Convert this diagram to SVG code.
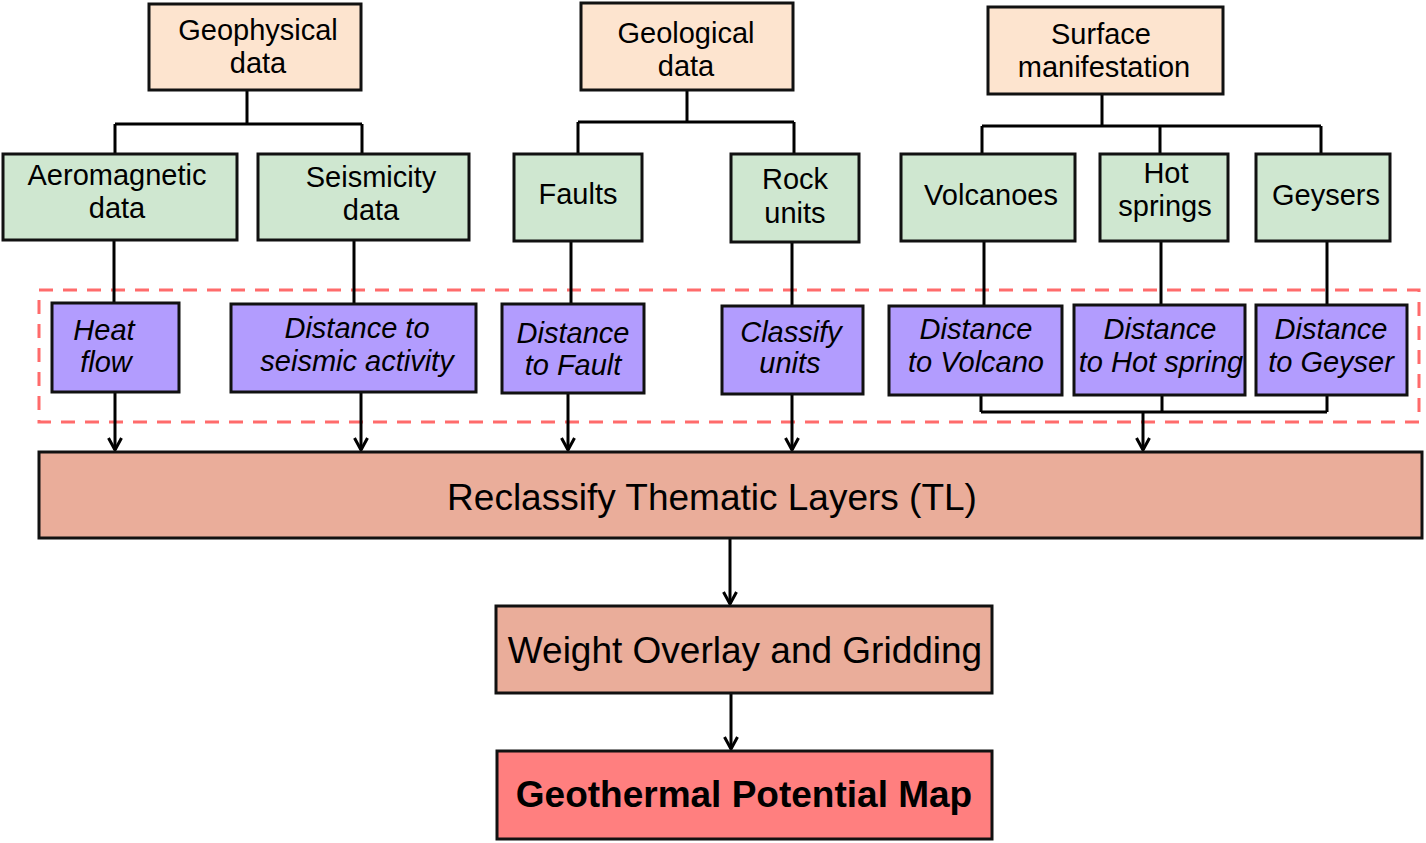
<svg xmlns="http://www.w3.org/2000/svg" width="1426" height="843" viewBox="0 0 1426 843">
<defs>
<style>
.box{stroke:#111;stroke-width:3}
.src{fill:#FDE4CF}
.grn{fill:#CFE7D0}
.pur{fill:#B29CFE}
.sal{fill:#EAAD9A}
.red{fill:#FF7F7F}
.t{font-family:"Liberation Sans",Arial,sans-serif;font-size:29px;fill:#000;text-anchor:middle}
.i{font-style:italic}
.big{font-size:37px}
.b{font-weight:bold}
.ln{fill:none;stroke:#000;stroke-width:3}
.dash{fill:none;stroke:#FF6B6B;stroke-width:3;stroke-dasharray:14 10}
</style>
<marker id="arr" viewBox="0 0 16 16" refX="14" refY="8" markerWidth="16" markerHeight="16" markerUnits="userSpaceOnUse" orient="auto">
<path d="M2,1.5 L14,8 L2,14.5" fill="none" stroke="#000" stroke-width="3"/>
</marker>
</defs>
<rect width="1426" height="843" fill="#fff"/>
<rect class="dash" x="39" y="290" width="1380" height="132"/>
<g id="connectors">
<path class="ln" d="M247,90 V124 M115,124 H362 M115,124 V154 M362,124 V154"/>
<path class="ln" d="M687,90 V122 M578,122 H794 M578,122 V154 M794,122 V154"/>
<path class="ln" d="M1102,94 V126 M982,126 H1321 M982,126 V154 M1160,126 V154 M1321,126 V154"/>
<path class="ln" d="M114,240 V303 M354,240 V304 M571,241 V304 M792,242 V306 M984,241 V306 M1161,241 V305 M1327,241 V305"/>
<path class="ln" d="M981,395 V412 M1162,395 V412 M1327,395 V412 M981,412 H1327"/>
<path class="ln" marker-end="url(#arr)" d="M115,392 V450"/>
<path class="ln" marker-end="url(#arr)" d="M361,392 V450"/>
<path class="ln" marker-end="url(#arr)" d="M568,393 V450"/>
<path class="ln" marker-end="url(#arr)" d="M792,394 V450"/>
<path class="ln" marker-end="url(#arr)" d="M1143,412 V450"/>
<path class="ln" marker-end="url(#arr)" d="M730,538 V604"/>
<path class="ln" marker-end="url(#arr)" d="M731,693 V749"/>
</g>
<g id="geophysical"><rect class="box src" x="149" y="4" width="212" height="86"/><text class="t" x="258" y="40">Geophysical</text><text class="t" x="258" y="73">data</text></g>
<g id="geological"><rect class="box src" x="581" y="3" width="212" height="87"/><text class="t" x="686" y="43">Geological</text><text class="t" x="686" y="76">data</text></g>
<g id="surface"><rect class="box src" x="988" y="7" width="235" height="87"/><text class="t" x="1101" y="44">Surface</text><text class="t" x="1104" y="77">manifestation</text></g>
<g id="aeromagnetic"><rect class="box grn" x="3" y="154" width="234" height="86"/><text class="t" x="117" y="185">Aeromagnetic</text><text class="t" x="117" y="218">data</text></g>
<g id="seismicity"><rect class="box grn" x="258" y="154" width="211" height="86"/><text class="t" x="371" y="187">Seismicity</text><text class="t" x="371" y="220">data</text></g>
<g id="faults"><rect class="box grn" x="514" y="154" width="128" height="87"/><text class="t" x="578" y="204">Faults</text></g>
<g id="rock"><rect class="box grn" x="731" y="154" width="128" height="88"/><text class="t" x="795" y="189">Rock</text><text class="t" x="795" y="223">units</text></g>
<g id="volcanoes"><rect class="box grn" x="901" y="154" width="174" height="87"/><text class="t" x="991" y="205">Volcanoes</text></g>
<g id="hotsprings"><rect class="box grn" x="1100" y="154" width="128" height="87"/><text class="t" x="1166" y="183">Hot</text><text class="t" x="1165" y="216">springs</text></g>
<g id="geysers"><rect class="box grn" x="1256" y="154" width="134" height="87"/><text class="t" x="1326" y="205">Geysers</text></g>
<g id="heatflow"><rect class="box pur" x="52" y="303" width="127" height="89"/><text class="t i" x="104" y="340">Heat</text><text class="t i" x="106" y="372">flow</text></g>
<g id="distseismic"><rect class="box pur" x="231" y="304" width="245" height="88"/><text class="t i" x="357" y="338">Distance to</text><text class="t i" x="357" y="371">seismic activity</text></g>
<g id="distfault"><rect class="box pur" x="502" y="304" width="142" height="89"/><text class="t i" x="573" y="343">Distance</text><text class="t i" x="573" y="375">to Fault</text></g>
<g id="classify"><rect class="box pur" x="722" y="306" width="141" height="88"/><text class="t i" x="791" y="342">Classify</text><text class="t i" x="790" y="373">units</text></g>
<g id="distvolcano"><rect class="box pur" x="889" y="306" width="173" height="89"/><text class="t i" x="976" y="339">Distance</text><text class="t i" x="976" y="372">to Volcano</text></g>
<g id="disthot"><rect class="box pur" x="1074" y="305" width="171" height="90"/><text class="t i" x="1160" y="339">Distance</text><text class="t i" x="1161" y="372">to Hot spring</text></g>
<g id="distgeyser"><rect class="box pur" x="1256" y="305" width="151" height="90"/><text class="t i" x="1331" y="339">Distance</text><text class="t i" x="1331" y="372">to Geyser</text></g>
<g id="reclassify"><rect class="box sal" x="39" y="452" width="1383" height="86"/><text class="t big" x="712" y="510">Reclassify Thematic Layers (TL)</text></g>
<g id="weight"><rect class="box sal" x="496" y="606" width="496" height="87"/><text class="t big" x="745" y="663">Weight Overlay and Gridding</text></g>
<g id="geomap"><rect class="box red" x="497" y="751" width="495" height="88"/><text class="t big b" x="744" y="807">Geothermal Potential Map</text></g>
</svg>
